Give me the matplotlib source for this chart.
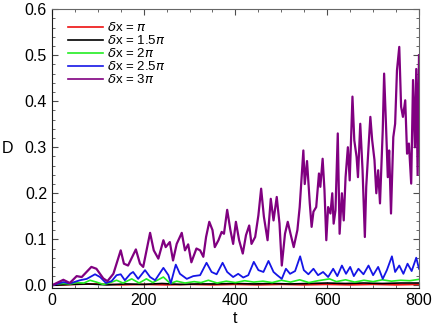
import matplotlib
matplotlib.use("Agg")
import matplotlib.pyplot as plt
from matplotlib.ticker import MultipleLocator

# purple, dx = 3pi
t_p = [0, 25, 39, 54, 65, 86, 97, 112, 121, 134, 150, 157, 166, 183, 192, 199,
       214, 222, 232, 243, 248, 257, 264, 272, 283, 290, 297, 304, 315, 323,
       330, 336, 343, 350, 355, 363, 370, 375, 382, 389, 395, 401, 408, 416,
       423, 430, 435, 443, 450, 456, 462, 470, 477, 483, 490, 496, 501, 508,
       514, 520, 527, 535, 540, 548, 551, 556, 562, 566, 570, 576, 582, 585,
       590, 594, 598, 602, 607, 611, 614, 618, 623, 627, 632, 636, 640, 645,
       649, 655, 659, 664, 667, 672, 677, 682, 685, 690, 694, 698, 703, 707,
       711, 715, 721, 724, 728, 732, 735, 739, 744, 748, 752, 757, 761, 765,
       770, 774, 778, 783, 787, 791, 794, 797, 800]
d_p = [0.0, 0.012, 0.005, 0.020, 0.018, 0.040, 0.036, 0.015, 0.009, 0.025,
       0.076, 0.047, 0.043, 0.078, 0.047, 0.040, 0.114, 0.076, 0.058, 0.098,
       0.083, 0.094, 0.054, 0.090, 0.114, 0.076, 0.089, 0.050, 0.080, 0.076,
       0.062, 0.105, 0.138, 0.120, 0.083, 0.098, 0.116, 0.112, 0.164, 0.120,
       0.090, 0.138, 0.098, 0.069, 0.109, 0.130, 0.090, 0.105, 0.152, 0.210,
       0.149, 0.098, 0.188, 0.141, 0.192, 0.134, 0.043, 0.112, 0.138, 0.112,
       0.083, 0.120, 0.170, 0.293, 0.220, 0.270, 0.178, 0.127, 0.160, 0.170,
       0.243, 0.214, 0.275, 0.207, 0.098, 0.170, 0.156, 0.200, 0.134, 0.163,
       0.330, 0.112, 0.200, 0.141, 0.235, 0.300, 0.228, 0.410, 0.315, 0.279,
       0.235, 0.351, 0.250, 0.105, 0.214, 0.300, 0.366, 0.315, 0.272, 0.200,
       0.250, 0.178, 0.337, 0.460, 0.351, 0.235, 0.293, 0.156, 0.322, 0.351,
       0.467, 0.518, 0.388, 0.366, 0.402, 0.286, 0.308, 0.221, 0.446, 0.300,
       0.470, 0.240, 0.500]

# blue, dx = 2.5pi
t_b = [0, 25, 39, 61, 76, 94, 105, 118, 130, 141, 150, 159, 171, 177, 188,
       203, 214, 225, 243, 254, 259, 270, 279, 294, 308, 323, 337, 348, 359,
       372, 382, 395, 406, 417, 428, 440, 450, 461, 472, 483, 491, 501, 510,
       519, 530, 541, 549, 559, 570, 580, 591, 602, 613, 622, 632, 641, 650,
       658, 668, 679, 690, 700, 711, 721, 730, 741, 748, 757, 766, 775, 784,
       794, 800]
d_b = [0.0, 0.007, 0.004, 0.011, 0.014, 0.024, 0.018, 0.005, 0.009, 0.022,
       0.024, 0.011, 0.025, 0.029, 0.014, 0.033, 0.018, 0.011, 0.038, 0.022,
       0.004, 0.045, 0.025, 0.014, 0.020, 0.022, 0.049, 0.029, 0.024, 0.049,
       0.029, 0.018, 0.025, 0.017, 0.022, 0.051, 0.033, 0.029, 0.053, 0.029,
       0.022, 0.014, 0.036, 0.025, 0.031, 0.063, 0.033, 0.024, 0.036, 0.022,
       0.029, 0.018, 0.036, 0.020, 0.043, 0.025, 0.040, 0.020, 0.036, 0.024,
       0.043, 0.022, 0.040, 0.014, 0.033, 0.063, 0.029, 0.043, 0.025, 0.047,
       0.031, 0.060, 0.036]

# green, dx = 2pi
t_g = [0, 10, 25, 40, 54, 70, 83, 97, 112, 125, 141, 155, 174, 190, 206, 220,
       243, 258, 272, 290, 310, 325, 341, 360, 380, 400, 420, 440, 460, 480,
       500, 520, 540, 560, 580, 605, 620, 640, 660, 680, 700, 720, 740, 760,
       780, 800]
d_g = [0.0, 0.003, 0.004, 0.003, 0.006, 0.005, 0.011, 0.007, 0.002, 0.005,
       0.011, 0.005, 0.014, 0.005, 0.014, 0.006, 0.018, 0.004, 0.009, 0.005,
       0.008, 0.006, 0.011, 0.005, 0.009, 0.006, 0.010, 0.007, 0.009, 0.006,
       0.011, 0.007, 0.012, 0.006, 0.010, 0.014, 0.008, 0.012, 0.007, 0.011,
       0.008, 0.012, 0.009, 0.011, 0.010, 0.013]

# black, dx = 1.5pi
t_k = [0, 40, 80, 120, 160, 200, 240, 280, 320, 360, 400, 440, 480, 520, 560,
       600, 640, 680, 720, 760, 800]
d_k = [0.0, 0.002, 0.003, 0.001, 0.003, 0.002, 0.004, 0.002, 0.003, 0.003,
       0.004, 0.003, 0.004, 0.003, 0.004, 0.005, 0.004, 0.005, 0.004, 0.005,
       0.005]

# red, dx = pi
t_r = [0, 50, 100, 150, 200, 250, 300, 350, 400, 450, 500, 550, 600, 650,
       700, 750, 800]
d_r = [0.0, 0.002, 0.003, 0.001, 0.002, 0.001, 0.002, 0.001, 0.002, 0.001,
       0.002, 0.001, 0.002, 0.001, 0.002, 0.001, 0.002]

labels = [r"$\delta$x = $\pi$", r"$\delta$x = 1.5$\pi$", r"$\delta$x = 2$\pi$",
          r"$\delta$x = 2.5$\pi$", r"$\delta$x = 3$\pi$"]

plt.rcParams["font.family"] = ["Liberation Sans", "DejaVu Sans"]
plt.rcParams["mathtext.fontset"] = "dejavusans"

fig = plt.figure(figsize=(4.36, 3.27), dpi=100)
ax = fig.add_axes([0.119, 0.119, 0.842, 0.853])

ax.plot(t_r, d_r, color="#ee1111", lw=1.2, label=labels[0])
ax.plot(t_k, d_k, color="black", lw=1.2, label=labels[1])
ax.plot(t_g, d_g, color="#22ee22", lw=1.2, label=labels[2])
ax.plot(t_b, d_b, color="#1515e6", lw=1.3, label=labels[3])
ax.plot(t_p, d_p, color="#800080", lw=1.6, label=labels[4])

ax.set_xlim(0, 800)
ax.set_ylim(-0.006, 0.6)
ax.xaxis.set_major_locator(MultipleLocator(200))
ax.xaxis.set_minor_locator(MultipleLocator(50))
ax.yaxis.set_major_locator(MultipleLocator(0.1))
ax.yaxis.set_minor_locator(MultipleLocator(0.02))
ax.tick_params(which="both", direction="in", top=True, right=True,
               labelsize=11.5, color="0.3")
ax.tick_params(which="major", length=4)
ax.tick_params(which="minor", length=2)
for s in ax.spines.values():
    s.set_color("0.4")
ax.spines["left"].set_color("0.1")
ax.spines["bottom"].set_color("0.1")

ax.set_xlabel("t", fontsize=11.5, labelpad=2)
ax.set_ylabel("D", fontsize=11.5, rotation=0, labelpad=12, va="center")

leg = ax.legend(loc="upper left", frameon=False, fontsize=9.5,
                handlelength=2.6, handletextpad=0.3, labelspacing=0.0,
                borderaxespad=0.3, bbox_to_anchor=(0.02, 0.99))
for line in leg.get_lines():
    line.set_linewidth(1.2)

fig.savefig("out.png", dpi=100)
